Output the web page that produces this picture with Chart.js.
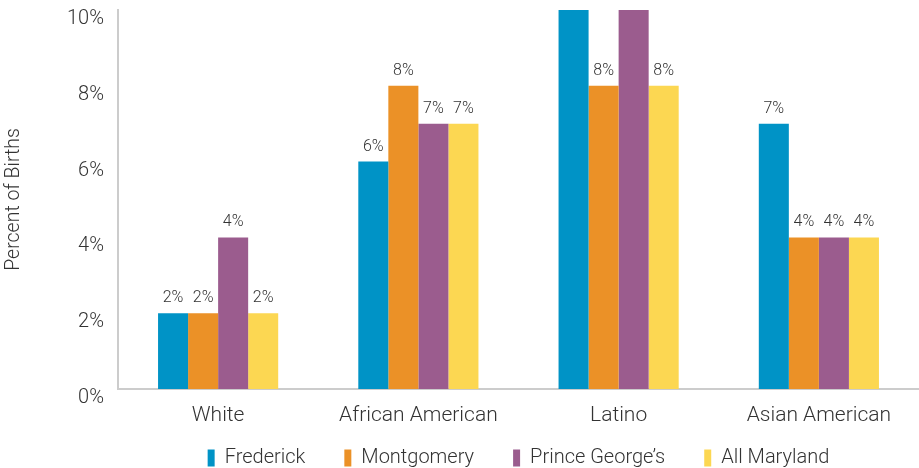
<!DOCTYPE html>
<html>
<head>
<meta charset="utf-8">
<script src="https://cdn.jsdelivr.net/npm/chart.js@4.4.0/dist/chart.umd.min.js"></script>
<style>
html,body{margin:0;padding:0;background:#fff;}
#wrap{width:919px;height:468px;position:relative;}
</style>
</head>
<body>
<div id="wrap"><canvas id="c" width="919" height="468"></canvas></div>
<script>
const categories = ["White", "African American", "Latino", "Asian American"];
const seriesNames = ["Frederick", "Montgomery", "Prince George\u2019s", "All Maryland"];
const frederick = [2, 6, 12, 7];
const montgomery = [2, 8, 8, 4];
const princeGeorges = [4, 7, 12, 4];
const allMaryland = [2, 7, 8, 4];
const yTicks = [0, 2, 4, 6, 8, 10];
const colors = ["#0093C6", "#EB9127", "#9B5C8E", "#FCD752"];
const FONT = "Roboto, 'Liberation Sans', sans-serif";

const labelPlugin = {
  id: 'barLabels',
  afterLayout(chart) {
    const x = chart.scales.x;
    x.bottom = x.top + 50;
  },
  afterDatasetsDraw(chart) {
    const ctx = chart.ctx;
    const max = chart.scales.y.max;
    ctx.save();
    ctx.font = "300 16px " + FONT;
    ctx.fillStyle = "#333";
    ctx.textAlign = "center";
    ctx.textBaseline = "middle";
    chart.data.datasets.forEach((ds, i) => {
      const meta = chart.getDatasetMeta(i);
      meta.data.forEach((bar, j) => {
        const v = ds.data[j];
        if (v > max) return;
        ctx.fillText(v + "%", bar.x, bar.y - 15);
      });
    });
    ctx.restore();
  }
};

new Chart(document.getElementById('c'), {
  type: 'bar',
  data: {
    labels: categories,
    datasets: [
      { label: seriesNames[0], data: frederick, backgroundColor: colors[0] },
      { label: seriesNames[1], data: montgomery, backgroundColor: colors[1] },
      { label: seriesNames[2], data: princeGeorges, backgroundColor: colors[2] },
      { label: seriesNames[3], data: allMaryland, backgroundColor: colors[3] }
    ]
  },
  options: {
    responsive: false,
    animation: false,
    devicePixelRatio: 1,
    layout: { padding: { top: 10, right: 0, left: 0, bottom: -10 } },
    datasets: { bar: { barPercentage: 1.0, categoryPercentage: 0.6 } },
    plugins: {
      tooltip: { enabled: false },
      legend: {
        position: 'bottom',
        fullSize: false,
        labels: {
          boxWidth: 7,
          boxHeight: 17,
          padding: 39,
          color: "#333",
          font: { family: FONT, size: 20, weight: '300' }
        }
      }
    },
    scales: {
      x: {
        grid: { display: false, drawTicks: false },
        border: { display: true, color: "#cccccc", width: 2 },
        ticks: { color: "#333", font: { family: FONT, size: 21, weight: '300' }, padding: 14 },
        afterFit(s) { s.height = 20; }
      },
      y: {
        min: 0, max: 10,
        afterBuildTicks(s) { s.ticks = yTicks.map(v => ({ value: v })); },
        grid: { display: false, drawTicks: false },
        border: { display: true, color: "#cccccc", width: 2 },
        ticks: {
          color: "#333",
          padding: 14,
          labelOffset: 9,
          font: { family: FONT, size: 20, weight: '300' },
          callback: v => v + "%"
        },
        title: { display: true, text: "Percent of Births", color: "#333", font: { family: FONT, size: 19.5, weight: '300' }, padding: 2 },
        afterFit(s) { s.width = 118; s.paddingTop = 0; s.paddingBottom = 0; }
      }
    }
  },
  plugins: [labelPlugin]
});
</script>
</body>
</html>
